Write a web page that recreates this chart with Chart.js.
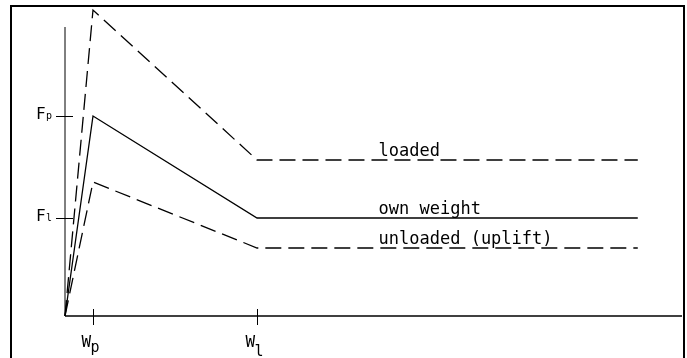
<!DOCTYPE html>
<html>
<head>
<meta charset="utf-8">
<script src="https://cdn.jsdelivr.net/npm/chart.js@4/dist/chart.umd.min.js"></script>
<style>
  html, body { margin: 0; padding: 0; background: #fff; }
  #wrap { width: 687px; height: 358px; }
</style>
</head>
<body>
<div id="wrap"><canvas id="c" width="687" height="358"></canvas></div>
<script>
// 數據（x 以 Wp 為 1 單位，y 以 Fp = 10）
const xPoints = [0, 1, 6.86, 20.46];
const loaded = [0, 15.3, 7.8, 7.8];
const ownWeight = [0, 10, 4.9, 4.9];
const unloaded = [0, 6.7, 3.4, 3.4];
const seriesNames = ['loaded', 'own weight', 'unloaded (uplift)'];

// 刻度
const xTickValues = [1, 6.86];
const xTickLabels = [['W', 'p'], ['W', 'l']];
const yTickValues = [4.9, 10];
const yTickLabels = [['F', 'l'], ['F', 'p']];
const yAxisTop = 14.45;

const pts = ys => xPoints.map((x, i) => ({ x, y: ys[i] }));

// 外框 + 軸 + 刻度 + 系列文字
const cadPlugin = {
  id: 'cad',
  beforeDraw(chart) {
    const ctx = chart.ctx;
    ctx.save();
    ctx.fillStyle = '#fff';
    ctx.fillRect(0, 0, chart.width, chart.height);
    ctx.strokeStyle = '#000';
    ctx.lineWidth = 2;
    ctx.strokeRect(11, 6, 673, 400);
    ctx.restore();
  },
  afterDatasetsDraw(chart) {
    const ctx = chart.ctx;
    const xs = chart.scales.x, ys = chart.scales.y;
    const x0 = xs.getPixelForValue(0), y0 = ys.getPixelForValue(0);
    ctx.save();
    // y 軸
    ctx.strokeStyle = '#000';
    ctx.lineWidth = 1;
    ctx.beginPath();
    ctx.moveTo(x0, y0);
    ctx.lineTo(x0, ys.getPixelForValue(yAxisTop));
    ctx.stroke();
    // x 軸
    ctx.lineWidth = 1.5;
    ctx.beginPath();
    ctx.moveTo(x0, y0);
    ctx.lineTo(chart.chartArea.right, y0);
    ctx.stroke();

    ctx.lineWidth = 1;
    ctx.fillStyle = '#000';
    ctx.textBaseline = 'alphabetic';
    // y 刻度
    yTickValues.forEach((v, i) => {
      const py = Math.round(ys.getPixelForValue(v)) + 0.5;
      ctx.beginPath();
      ctx.moveTo(x0 - 9, py);
      ctx.lineTo(x0 + 8, py);
      ctx.stroke();
      const [main, sub] = yTickLabels[i];
      ctx.font = '16px "DejaVu Sans Mono"';
      ctx.textAlign = 'left';
      ctx.fillText(main, 36, py + 2);
      ctx.font = '10px "DejaVu Sans Mono"';
      ctx.fillText(sub, 46, py + 2);
    });
    // x 刻度
    xTickValues.forEach((v, i) => {
      const px = Math.round(xs.getPixelForValue(v)) + 0.5;
      ctx.beginPath();
      ctx.moveTo(px, y0 - 7);
      ctx.lineTo(px, y0 + 9);
      ctx.stroke();
      const [main, sub] = xTickLabels[i];
      ctx.font = '16px "DejaVu Sans Mono"';
      ctx.textAlign = 'left';
      ctx.fillText(main, px - 12, y0 + 31);
      ctx.font = '15px "DejaVu Sans Mono"';
      ctx.fillText(sub, px - 3, y0 + (sub === 'l' ? 40 : 36));
    });
    // 系列文字
    ctx.font = '17px "DejaVu Sans Mono"';
    ctx.textAlign = 'left';
    const opts = chart.options.plugins.cad;
    chart.data.datasets.forEach(ds => {
      const last = ds.data[ds.data.length - 1].y;
      ctx.fillText(ds.label, xs.getPixelForValue(opts.labelX), ys.getPixelForValue(last) - 4);
    });
    ctx.restore();
  }
};

const common = { showLine: true, pointRadius: 0, borderColor: '#000', borderWidth: 1.3, tension: 0, fill: false, clip: false };

new Chart(document.getElementById('c'), {
  type: 'scatter',
  data: {
    datasets: [
      { ...common, label: seriesNames[0], data: pts(loaded), borderDash: [16, 7] },
      { ...common, label: seriesNames[1], data: pts(ownWeight) },
      { ...common, label: seriesNames[2], data: pts(unloaded), borderDash: [16, 7] }
    ]
  },
  options: {
    responsive: false,
    animation: false,
    layout: { padding: { left: 65, right: 5, top: 6, bottom: 42 } },
    scales: {
      x: { type: 'linear', display: false, min: 0, max: 22.04 },
      y: { type: 'linear', display: false, min: 0, max: 15.5 }
    },
    plugins: {
      legend: { display: false },
      tooltip: { enabled: false },
      cad: { labelX: 11.2 }
    }
  },
  plugins: [cadPlugin]
});
</script>
</body>
</html>
